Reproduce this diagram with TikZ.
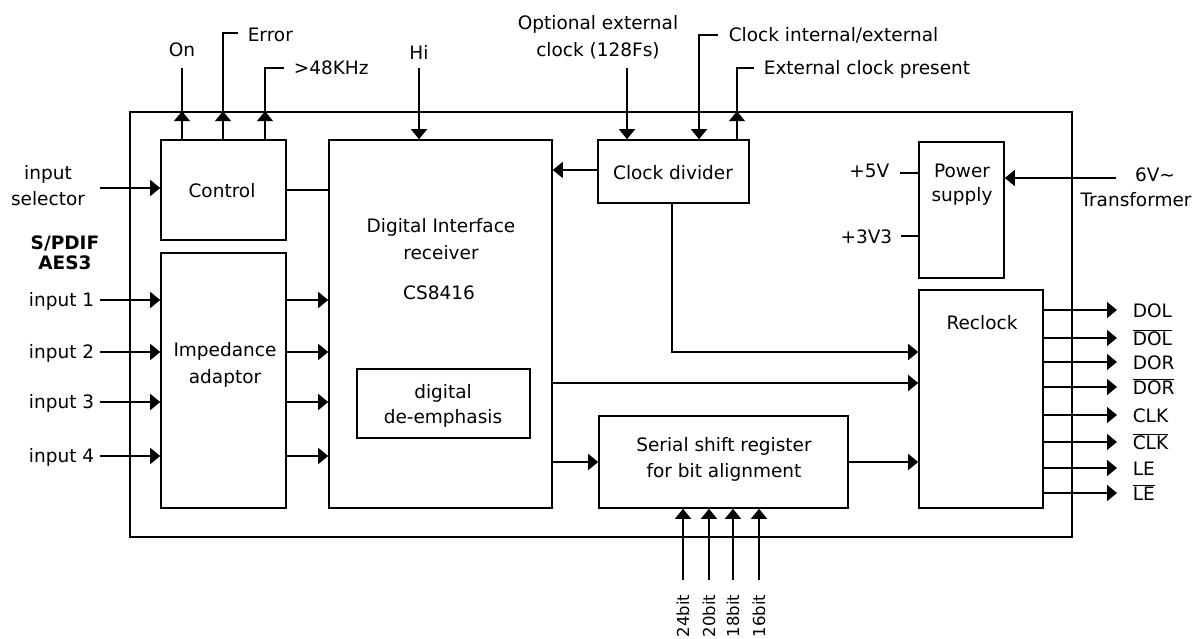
\documentclass[tikz,border=0pt]{standalone}
\usepackage{fontspec}
\setmainfont{DejaVu Sans}
\usetikzlibrary{arrows.meta}
\begin{document}
\begin{tikzpicture}[x=1pt,y=-1pt,line width=1.6pt,
  box/.style={draw,line width=1.6pt,inner sep=0pt,rectangle},
  txt/.style={font=\fontsize{18.5}{26}\selectfont,inner sep=0pt,text=black},
  rtxt/.style={font=\fontsize{16.5}{20}\selectfont,inner sep=0pt,text=black,rotate=90,anchor=east},
  btxt/.style={font=\bfseries\fontsize{18.5}{26}\selectfont,inner sep=0pt,text=black},
  arr/.style={-{Triangle[length=10pt,width=16pt]}},
]
\useasboundingbox (0,0) rectangle (1204,639);
% boxes
\node[box,minimum width=942pt,minimum height=425pt] (frame) at (601,324.5) {};
\node[box,minimum width=125pt,minimum height=100pt] (ctl) at (223.5,190) {};
\node[box,minimum width=125pt,minimum height=255pt] (imp) at (223.5,380.5) {};
\node[box,minimum width=223pt,minimum height=368pt] (dir) at (440.5,324) {};
\node[box,minimum width=173pt,minimum height=69pt] (dem) at (443.5,403.5) {};
\node[box,minimum width=151pt,minimum height=63pt] (clk) at (673.5,171.5) {};
\node[box,minimum width=85pt,minimum height=136pt] (psu) at (961.5,210) {};
\node[box,minimum width=124pt,minimum height=218pt] (rck) at (981,399) {};
\node[box,minimum width=249pt,minimum height=92pt] (ssr) at (723.5,462) {};
% box texts
\node[txt,anchor=base] (tctl) at (222,197) {Control};
\node[txt,anchor=base] (timp1) at (225,356) {Impedance};
\node[txt,anchor=base] (timp2) at (225,383) {adaptor};
\node[txt,anchor=base] (tdir1) at (441,233) {Digital Interface};
\node[txt,anchor=base] (tdir2) at (441,259) {receiver};
\node[txt,anchor=base] (tdir3) at (439,299) {CS8416};
\node[txt,anchor=base] (tdem1) at (443,398) {digital};
\node[txt,anchor=base] (tdem2) at (443,423) {de-emphasis};
\node[txt,anchor=base] (tclk) at (673,180) {Clock divider};
\node[txt,anchor=base] (tpsu1) at (962,178) {Power};
\node[txt,anchor=base] (tpsu2) at (962,201) {supply};
\node[txt,anchor=base] (trck) at (982,329) {Reclock};
\node[txt,anchor=base] (tssr1) at (724,451) {Serial shift register};
\node[txt,anchor=base] (tssr2) at (724,477) {for bit alignment};
% top signals
\coordinate (onE) at (182,68);
\coordinate (erE) at (238,33);
\coordinate (erC) at (223,33);
\coordinate (khE) at (284,68);
\coordinate (khC) at (265,68);
\coordinate (hiS) at (419,68);
\coordinate (ocS) at (627,68);
\coordinate (ciS) at (718,35);
\coordinate (ciC) at (699,35);
\coordinate (epE) at (754,68);
\coordinate (epC) at (737,68);
\draw (ctl.north -| onE) -- (onE);
\draw[arr] (ctl.north -| onE) -- (frame.north -| onE);
\draw (ctl.north -| erC) -- (erC) -- (erE);
\draw[arr] (ctl.north -| erC) -- (frame.north -| erC);
\draw (ctl.north -| khC) -- (khC) -- (khE);
\draw[arr] (ctl.north -| khC) -- (frame.north -| khC);
\draw[arr] (hiS) -- (dir.north -| hiS);
\draw[arr] (ocS) -- (clk.north -| ocS);
\draw[arr] (ciS) -- (ciC) -- (clk.north -| ciC);
\draw (clk.north -| epC) -- (epC) -- (epE);
\draw[arr] (clk.north -| epC) -- (frame.north -| epC);
\node[txt,anchor=base] (lon) at (182,57) {On};
\node[txt,anchor=base west] (ler) at (247,42) {Error};
\node[txt,anchor=base west] (lkh) at (293,75) {>48KHz};
\node[txt,anchor=base] (lhi) at (419,60) {Hi};
\node[txt,anchor=base] (loc1) at (598,30) {Optional external};
\node[txt,anchor=base] (loc2) at (598,57) {clock (128Fs)};
\node[txt,anchor=base west] (lci) at (728,42) {Clock internal/external};
\node[txt,anchor=base west] (lep) at (763,75) {External clock present};
% left inputs
\coordinate (selS) at (100,188);
\draw[arr] (selS) -- (ctl.west |- selS);
\node[txt,anchor=base] (lsel1) at (48,179) {input};
\node[txt,anchor=base] (lsel2) at (48,205) {selector};
\node[btxt,anchor=base] (lsp1) at (65,249) {S/PDIF};
\node[btxt,anchor=base] (lsp2) at (65,269) {AES3};
\foreach \i/\y in {1/300,2/352,3/402,4/456}{
  \coordinate (in\i) at (100,\y);
  \draw[arr] (in\i) -- (imp.west |- in\i);
  \draw[arr] (imp.east |- in\i) -- (dir.west |- in\i);
  \node[txt,anchor=base east] (lin\i) at (95,\y+6) {input \i};
}
% internal connections
\draw (ctl.east) -- (ctl.east -| dir.west);
\draw[arr] (clk.west |- 0,170) -- (dir.east |- 0,170);
\coordinate (ckD) at (672,352);
\draw[arr] (clk.south -| ckD) -- (ckD) -- (rck.west |- ckD);
\coordinate (drR) at (552,383);
\draw[arr] (drR) -- (rck.west |- drR);
\draw[arr] (dir.east |- ssr.west) -- (ssr.west);
\draw[arr] (ssr.east) -- (rck.west |- ssr.east);
% bit inputs
\foreach \x/\t in {683/24bit,709/20bit,733/18bit,759/16bit}{
  \coordinate (b\t) at (\x,580);
  \draw[arr] (b\t) -- (ssr.south -| b\t);
  \node[rtxt] (l\t) at (\x,594) {\t};
}
% power
\coordinate (p5) at (900,173);
\coordinate (p3) at (901,236);
\draw (p5) -- (psu.west |- p5);
\draw (p3) -- (psu.west |- p3);
\node[txt,anchor=base east] (l5) at (890,178) {+5V};
\node[txt,anchor=base east] (l3) at (893,243) {+3V3};
\coordinate (trS) at (1116,178);
\draw[arr] (trS) -- (psu.east |- trS);
\node[txt,anchor=base] (ltr1) at (1155,182) {6V\char"223C};
\node[txt,anchor=base] (ltr2) at (1136,207) {Transformer};
% outputs
\foreach \n/\y/\t in {1/310/DOL,2/338/$\overline{\mbox{DOL}}$,3/362/DOR,4/387/$\overline{\mbox{DOR}}$,5/415/CLK,6/442/$\overline{\mbox{CLK}}$,7/468/LE,8/493/$\overline{\mbox{LE}}$}{
  \coordinate (o\n) at (1117,\y);
  \draw[arr] (rck.east |- o\n) -- (o\n);
  \node[txt,anchor=base west] (lo\n) at (1132,\y+7) {\t};
}
\end{tikzpicture}
\end{document}
